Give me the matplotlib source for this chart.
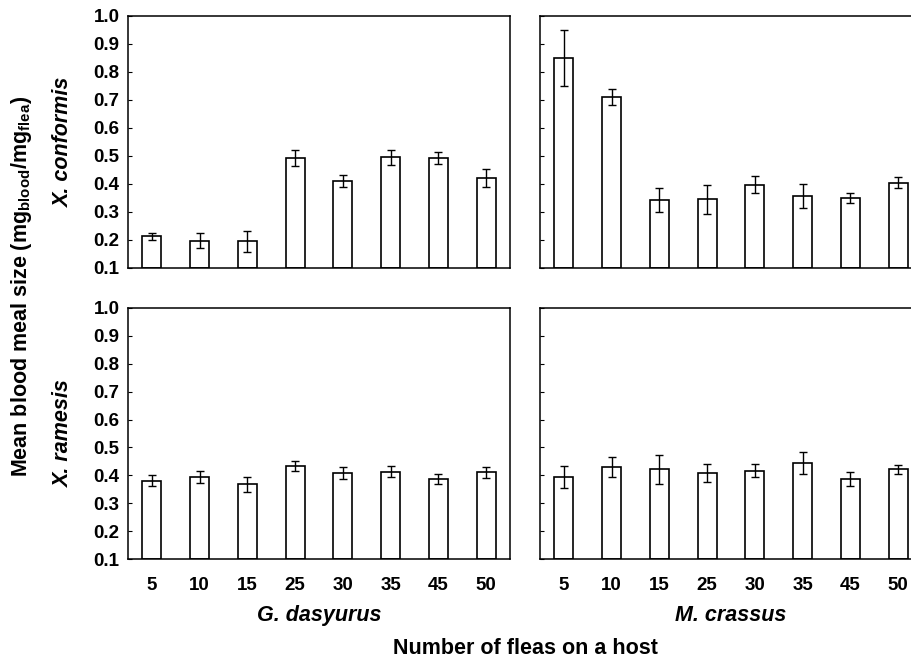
# Blood meal size of two flea species on two host species, 2x2 bar panels.

import numpy as np
import matplotlib
matplotlib.use('Agg')
import matplotlib.pyplot as plt

# --------------------------- DATA ---------------------------

flea_counts = ['5', '10', '15', '25', '30', '35', '45', '50']
hosts = ['G. dasyurus', 'M. crassus']
fleas = ['X. conformis', 'X. ramesis']

# X. conformis
conf_gd_mean = [0.213, 0.198, 0.195, 0.494, 0.411, 0.495, 0.493, 0.420]
conf_gd_err = [0.013, 0.026, 0.037, 0.029, 0.020, 0.027, 0.021, 0.032]
conf_mc_mean = [0.851, 0.712, 0.343, 0.346, 0.398, 0.356, 0.349, 0.405]
conf_mc_err = [0.100, 0.029, 0.042, 0.052, 0.031, 0.043, 0.018, 0.021]

# X. ramesis
ram_gd_mean = [0.381, 0.393, 0.368, 0.434, 0.408, 0.413, 0.386, 0.411]
ram_gd_err = [0.021, 0.021, 0.027, 0.018, 0.022, 0.020, 0.018, 0.019]
ram_mc_mean = [0.395, 0.429, 0.421, 0.408, 0.417, 0.443, 0.388, 0.421]
ram_mc_err = [0.040, 0.036, 0.053, 0.031, 0.024, 0.040, 0.025, 0.016]

# --------------------------- PLOT SETTINGS ---------------------------

plt.rcParams['font.family'] = ['Liberation Sans', 'DejaVu Sans']
plt.rcParams['font.weight'] = 'bold'
plt.rcParams['mathtext.fontset'] = 'custom'
plt.rcParams['mathtext.bf'] = 'Liberation Sans:bold'
plt.rcParams['mathtext.rm'] = 'Liberation Sans:bold'

W, H = 911, 660
fig = plt.figure(figsize=(W / 100, H / 100), dpi=100)

# Axes boxes in pixels: left, top, right, bottom
col_x = [(128, 510), (540, 922)]
row_y = [(16, 268), (308, 559)]

data = [[(conf_gd_mean, conf_gd_err), (conf_mc_mean, conf_mc_err)],
        [(ram_gd_mean, ram_gd_err), (ram_mc_mean, ram_mc_err)]]

x = np.arange(len(flea_counts))
tick_fs = 13.5
label_fs = 15.5

for r in range(2):
    for c in range(2):
        x0, x1 = col_x[c]
        y0, y1 = row_y[r]
        ax = fig.add_axes([x0 / W, 1 - y1 / H, (x1 - x0) / W, (y1 - y0) / H])
        means, errs = data[r][c]
        ax.bar(x, np.array(means) - 0.1, bottom=0.1, width=0.4, color='white',
               edgecolor='black', linewidth=1.2)
        ax.errorbar(x, means, yerr=errs, fmt='none', ecolor='black',
                    elinewidth=1.0, capsize=3, capthick=1.0)
        ax.set_xlim(-0.5, 7.5)
        ax.set_ylim(0.1, 1.0)
        ax.set_yticks(np.arange(0.1, 1.01, 0.1))
        ax.tick_params(axis='y', direction='in', length=3, width=0.8,
                       labelsize=tick_fs, pad=6)
        ax.tick_params(axis='x', length=0, labelsize=tick_fs, pad=13)
        for s in ax.spines.values():
            s.set_linewidth(1.1)
        if c == 0:
            ax.set_yticklabels(['%.1f' % v for v in np.arange(0.1, 1.01, 0.1)],
                               fontweight='bold')
        else:
            ax.set_yticklabels([])
        if r == 1:
            ax.set_xticks(x)
            ax.set_xticklabels(flea_counts, fontweight='bold')
            ax.set_xlabel(hosts[c], fontsize=label_fs, fontweight='bold',
                          fontstyle='italic', labelpad=8)
        else:
            ax.set_xticks([])

# Row labels (flea species)
for r in range(2):
    yc = (row_y[r][0] + row_y[r][1]) / 2
    fig.text(63 / W, 1 - yc / H, fleas[r], rotation=90, ha='center', va='center',
             fontsize=label_fs, fontweight='bold', fontstyle='italic')

# Shared axis labels
fig.text(22 / W, 1 - 286 / H,
         r'Mean blood meal size (mg$_{\mathbf{blood}}$/mg$_{\mathbf{flea}}$)',
         rotation=90, ha='center', va='center', fontsize=label_fs, fontweight='bold')
fig.text(525 / W, 1 - 648 / H, 'Number of fleas on a host', ha='center',
         va='center', fontsize=label_fs, fontweight='bold')

fig.savefig('out.png', dpi=100)
